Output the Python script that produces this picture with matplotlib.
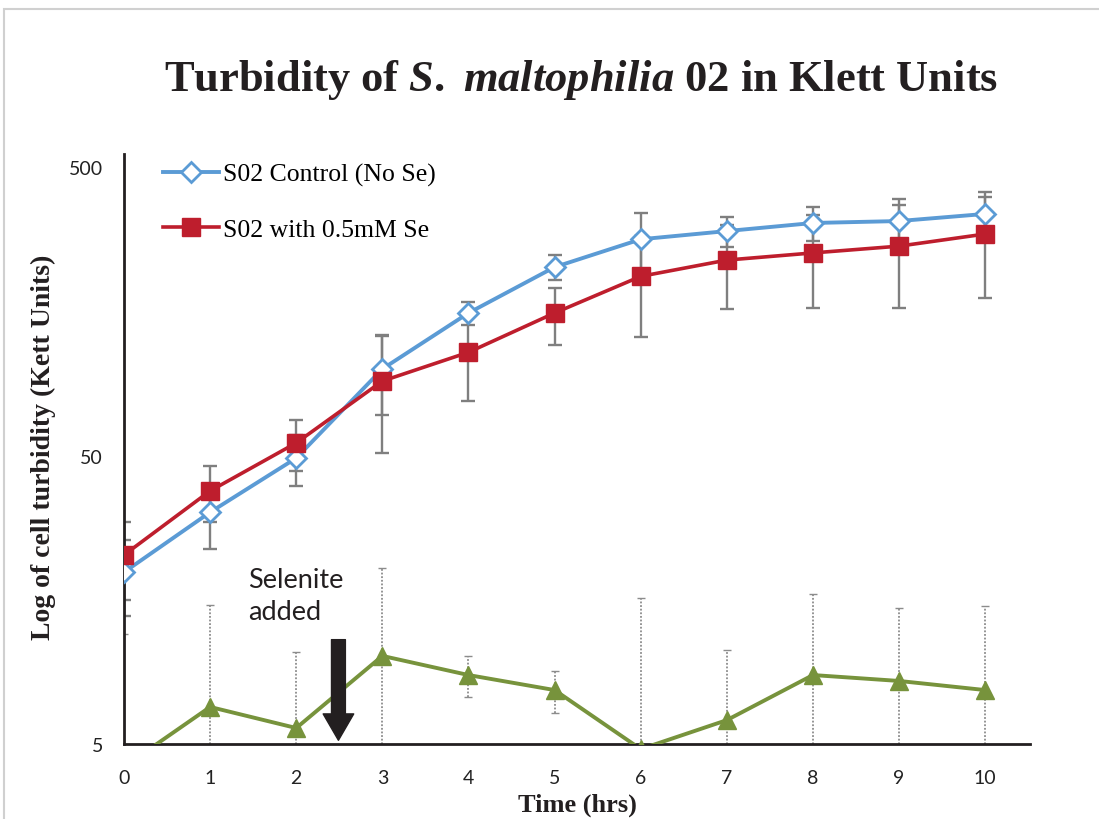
import matplotlib.pyplot as plt
from matplotlib.patches import Rectangle, FancyArrowPatch

# data (Klett units, log scale)
hours = [0, 1, 2, 3, 4, 5, 6, 7, 8, 9, 10]
control = [19.7, 31.8, 49.0, 99.8, 156, 225, 281, 300, 320, 325, 344]
control_err = [5.8, 8.1, 9.8, 30.8, 14, 22.7, 65, 35, 43, 62, 49]
selenite = [22.6, 37.7, 55.3, 90.6, 114, 156, 209, 238, 252, 266, 293]
selenite_err = [6.8, 8.3, 11.1, 39.4, 36.8, 35.2, 80, 77, 90, 104, 117]
third = [4.17, 6.72, 5.68, 10.1, 8.67, 7.69, 4.8, 6.05, 8.67, 8.27, 7.69]
third_err = [7.9, 8.5, 4.7, 10.3, 1.4, 1.3, 11.2, 4.5, 7.9, 6.5, 7.3]

blue = '#5B9BD5'
red = '#BE1E2D'
green = '#77933C'
grey = '#7F7F7F'

plt.rcParams['mathtext.fontset'] = 'custom'
plt.rcParams['mathtext.rm'] = 'Liberation Serif:bold'
plt.rcParams['mathtext.bf'] = 'Liberation Serif:bold'
plt.rcParams['mathtext.it'] = 'Liberation Serif:italic:bold'

fig = plt.figure(figsize=(10.99, 8.2), dpi=100)
ax = fig.add_axes([124 / 1099, 75 / 820, 906 / 1099, 590 / 820])

# error bars first, lines on top
ax.errorbar(hours, control, yerr=control_err, fmt='none', ecolor=grey,
            elinewidth=1.7, capsize=5, capthick=1.7, zorder=2)
ax.errorbar(hours, selenite, yerr=selenite_err, fmt='none', ecolor=grey,
            elinewidth=1.7, capsize=5, capthick=1.7, zorder=2)
eb = ax.errorbar(hours, third, yerr=third_err, fmt='none', ecolor='#8C8C8C',
                 elinewidth=1.3, capsize=3, capthick=1.0, zorder=2)
for c in eb[2]:
    c.set_linestyle((0, (1, 1)))
for c in eb[1]:
    c.set_color('#B0B0B0')

l1, = ax.plot(hours, control, color=blue, lw=2.8, marker='D', ms=10,
              mfc='white', mec=blue, mew=2, zorder=4, label='S02 Control (No Se)')
l2, = ax.plot(hours, selenite, color=red, lw=2.6, marker='s', ms=13,
              mfc=red, mec=red, zorder=4, label='S02 with 0.5mM Se')
ax.plot(hours, third, color=green, lw=2.8, marker='^', ms=13,
        mfc=green, mec=green, zorder=4)

ax.set_yscale('log')
ax.set_ylim(5, 555)
ax.set_xlim(0, 10.52)
ax.set_yticks([5, 50, 500])
ax.set_yticklabels(['5', '50', '500'])
ax.minorticks_off()
ax.set_xticks(hours)
ax.tick_params(axis='both', length=0, labelsize=14)
ax.tick_params(axis='y', pad=15)
ax.tick_params(axis='x', pad=18)
for lab in ax.get_xticklabels() + ax.get_yticklabels():
    lab.set_family('Lato')
    lab.set_color('#222222')

for s in ['top', 'right']:
    ax.spines[s].set_visible(False)
for s in ['left', 'bottom']:
    ax.spines[s].set_linewidth(2)
    ax.spines[s].set_color('#231F20')

ax.legend(handles=[l1, l2], loc='upper left', bbox_to_anchor=(0.043, 0.985),
          frameon=False, borderaxespad=0, borderpad=0, handlelength=2.2,
          handletextpad=0.15, labelspacing=1.24,
          prop={'family': 'Liberation Serif', 'size': 18.5})

# selenite arrow and note
ax.add_patch(FancyArrowPatch((2.49, 11.5), (2.49, 5.15),
                             arrowstyle='simple,head_length=1.9,head_width=2.2,tail_width=1.0',
                             mutation_scale=10, color='#231F20', shrinkA=0, shrinkB=0, zorder=5))
ax.text(1.44, 16.4, 'Selenite\nadded', fontsize=19.5, family='Lato',
        color='#231F20', ha='left', va='center', linespacing=1.35)

fig.text(581 / 1099, 1 - 80 / 820,
         r'Turbidity of $\mathit{S.\ maltophilia}$ 02 in Klett Units',
         ha='center', va='center', fontsize=32, family='Liberation Serif',
         weight='bold', color='#231F20')
fig.text(43 / 1099, 1 - 447 / 820, 'Log of cell turbidity (Kett Units)',
         rotation=90, ha='center', va='center', fontsize=20,
         family='Liberation Serif', weight='bold', color='#231F20')
fig.text(577 / 1099, 1 - 805 / 820, 'Time (hrs)', ha='center', va='center',
         fontsize=19, family='Liberation Serif', weight='bold', color='#231F20')

fig.patches.append(Rectangle((4 / 1099, -0.1), 1.2, 1.1 - 10 / 820,
                             transform=fig.transFigure, fill=False,
                             ec='#D0D0D0', lw=1.5))

fig.savefig('out.png', dpi=100)
